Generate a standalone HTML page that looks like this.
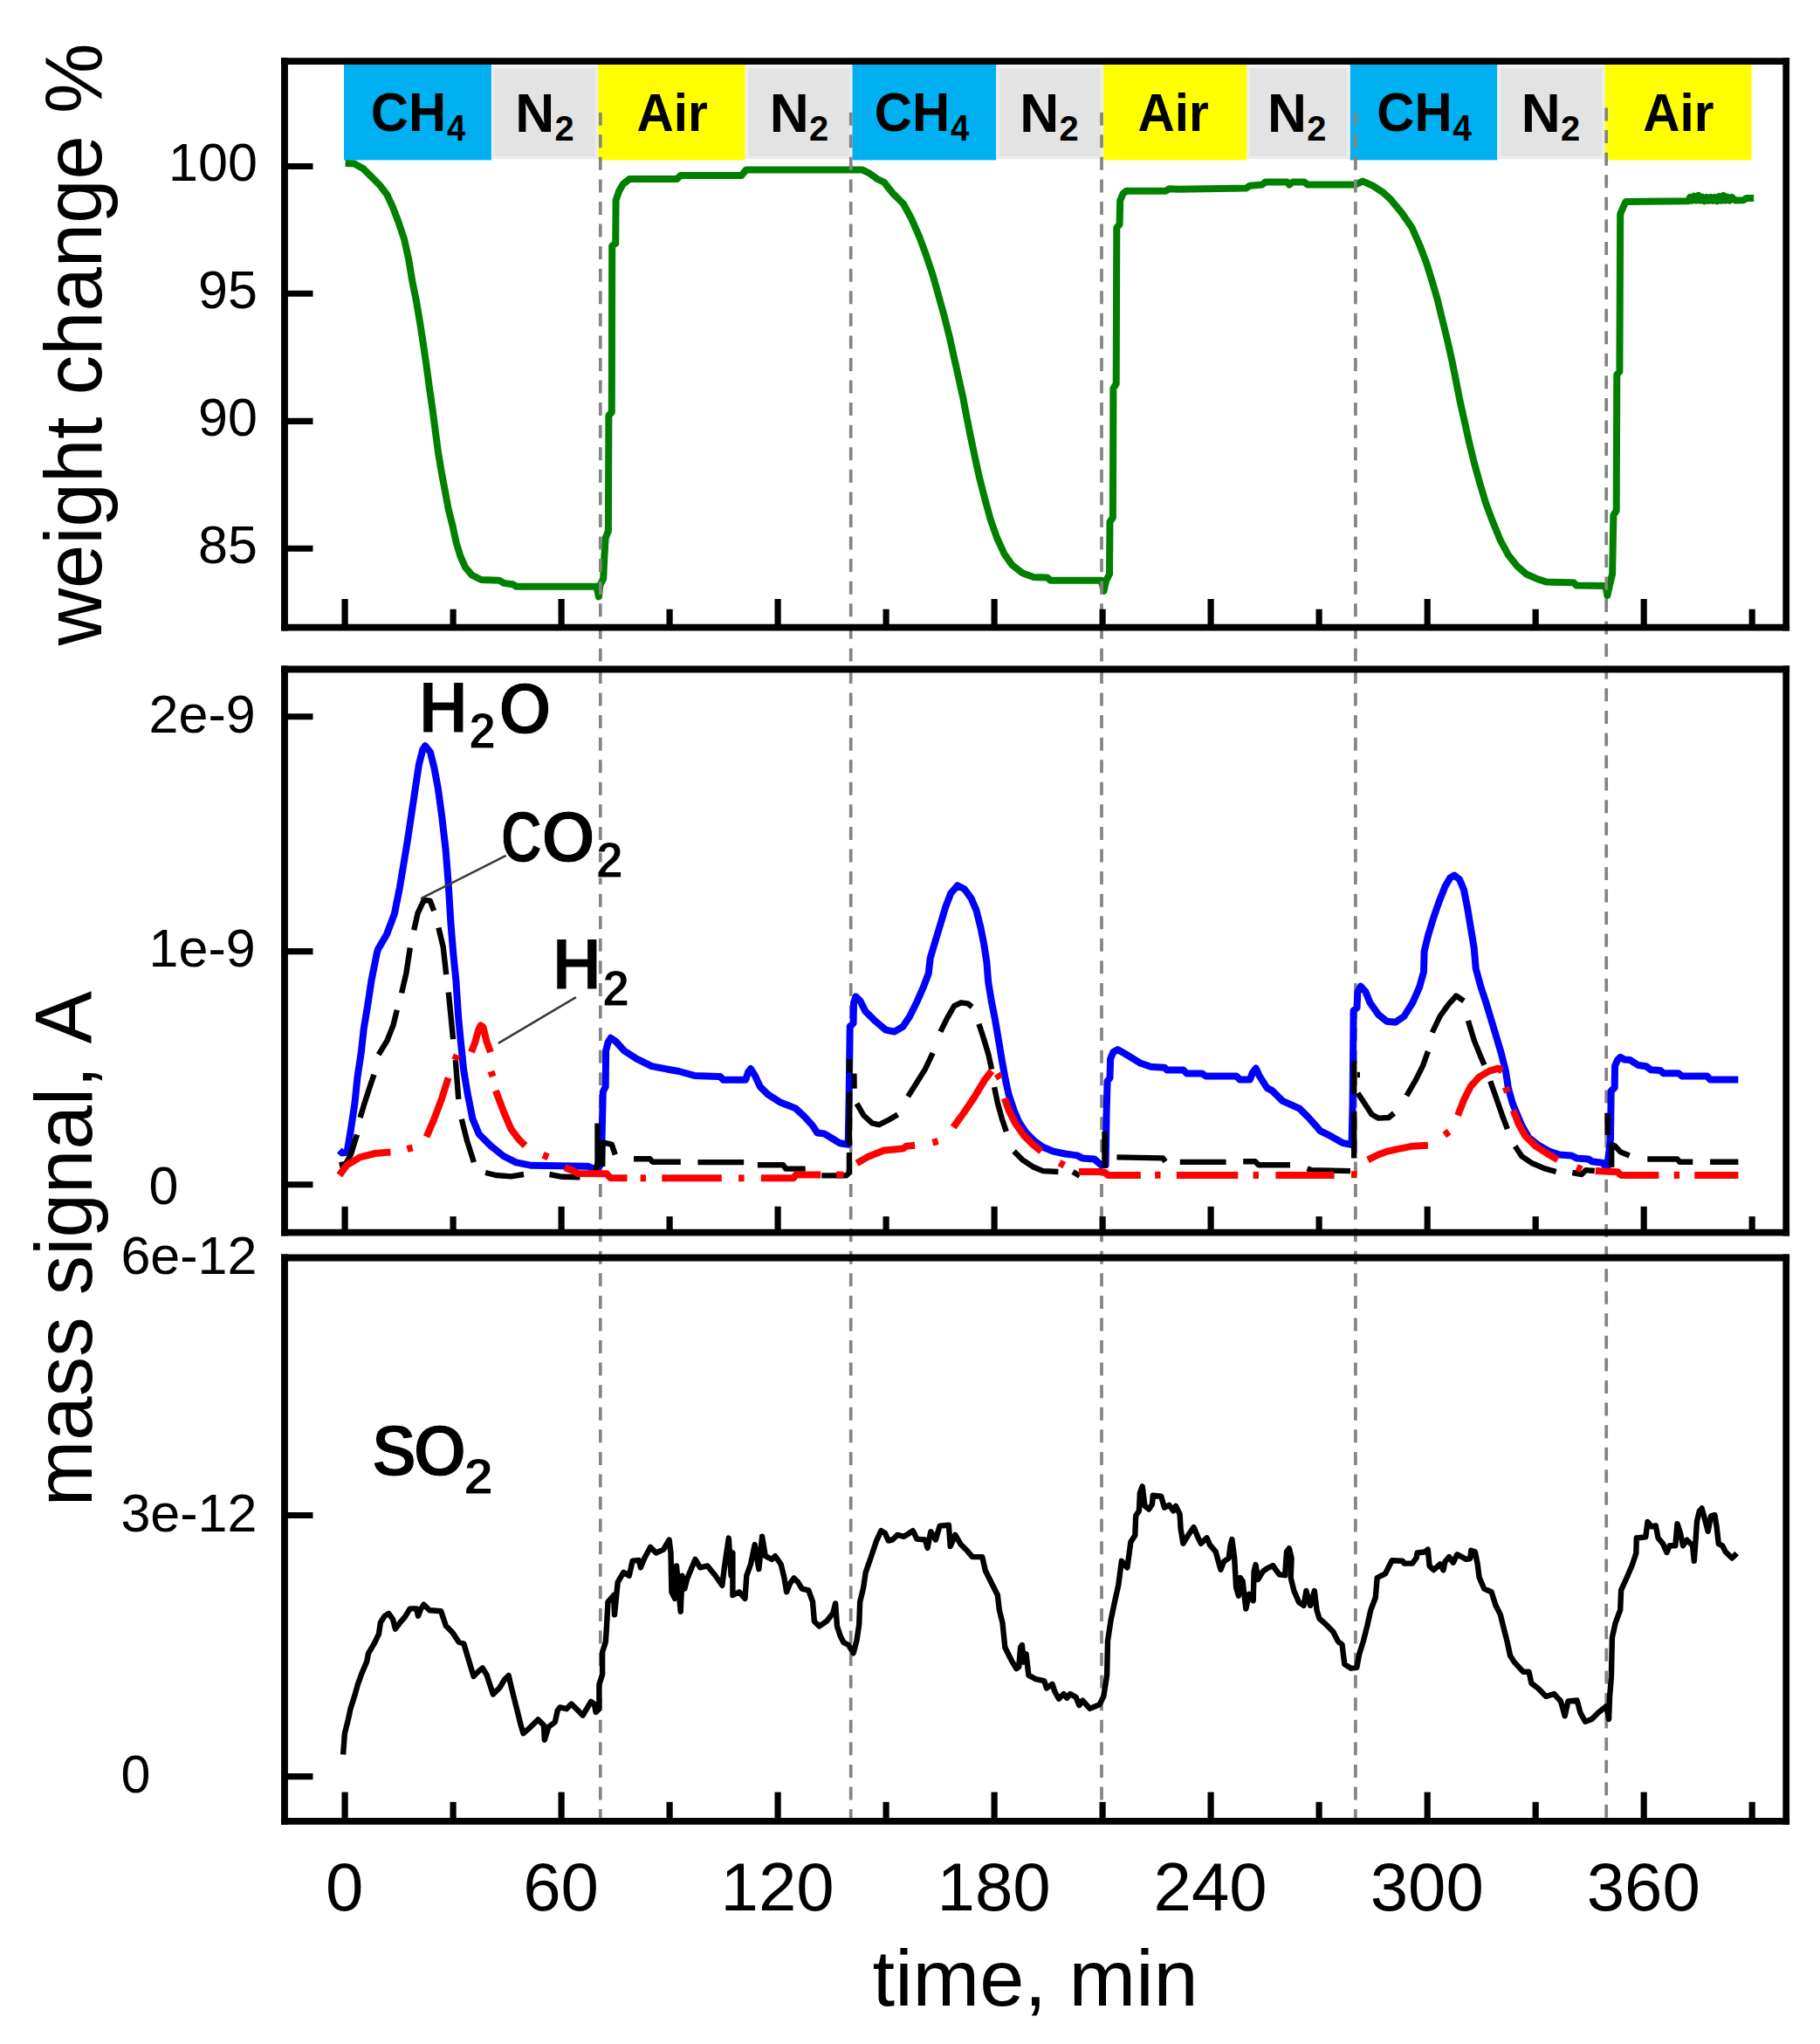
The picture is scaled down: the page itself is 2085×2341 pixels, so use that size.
<!DOCTYPE html>
<html lang="en"><head><meta charset="utf-8"><title>TGA-MS redox cycles</title>
<style>html,body{margin:0;padding:0;background:#fff}svg{display:block}text{font-family:"Liberation Sans",sans-serif;fill:#000;font-kerning:none}</style>
</head><body>
<svg width="2085" height="2341" viewBox="0 0 2085 2341">
<rect width="2085" height="2341" fill="#fff"/>
<g shape-rendering="geometricPrecision">
<rect x="394.0" y="73.6" width="168.9" height="109.8" fill="#00B0F0"/>
<rect x="976.3" y="73.6" width="165.0" height="109.8" fill="#00B0F0"/>
<rect x="1546.7" y="73.6" width="168.7" height="109.8" fill="#00B0F0"/>
<rect x="562.9" y="75.5" width="122.4" height="106.9" fill="#EDEDED"/>
<rect x="566.4" y="79.0" width="115.4" height="99.9" fill="#E3E3E3"/>
<rect x="853.5" y="75.5" width="122.8" height="106.9" fill="#EDEDED"/>
<rect x="857.0" y="79.0" width="115.8" height="99.9" fill="#E3E3E3"/>
<rect x="1141.3" y="75.5" width="122.9" height="106.9" fill="#EDEDED"/>
<rect x="1144.8" y="79.0" width="115.9" height="99.9" fill="#E3E3E3"/>
<rect x="1428.4" y="75.5" width="118.3" height="106.9" fill="#EDEDED"/>
<rect x="1431.9" y="79.0" width="111.3" height="99.9" fill="#E3E3E3"/>
<rect x="1715.4" y="75.5" width="123.2" height="106.9" fill="#EDEDED"/>
<rect x="1718.9" y="79.0" width="116.2" height="99.9" fill="#E3E3E3"/>
<rect x="685.3" y="73.6" width="168.2" height="109.8" fill="#FFFF00"/>
<rect x="1264.2" y="73.6" width="164.2" height="109.8" fill="#FFFF00"/>
<rect x="1838.6" y="73.6" width="167.9" height="109.8" fill="#FFFF00"/>
</g>
<path d="M395.6,186.9 L405.9,187.6 L416.3,193.3 L426.7,203.7 L435.7,212.8 L443.5,223.2 L450.0,237.4 L456.5,254.3 L463.0,273.7 L468.2,297.0 L472.0,320.4 L477.2,346.3 L481.6,372.3 L485.5,398.2 L488.9,421.5 L492.0,444.9 L495.4,468.2 L498.8,494.1 L501.9,517.5 L505.8,540.8 L509.7,561.5 L513.5,582.3 L518.7,603.0 L522.6,621.2 L527.3,636.7 L533.0,649.7 L540.8,658.8 L551.1,664.0 L571.9,664.7 L577.1,667.9 L587.4,669.2 L591.3,671.7 L683.4,671.7 L686.0,683.4 L687.3,670.4 L691.2,662.7 L692.4,636.7 L693.7,616.0 L696.9,608.2 L697.4,476.0 L700.8,472.1 L701.2,281.5 L705.2,278.9 L705.6,229.6 L709.0,219.3 L713.8,210.8 L721.1,205.0 L775.6,205.0 L779.5,201.1 L849.5,201.1 L854.7,194.6 L988.2,194.6 L996.0,198.5 L1005.0,205.0 L1013.0,208.9 L1023.3,221.9 L1035.0,233.5 L1044.1,250.4 L1053.2,271.1 L1060.9,291.9 L1068.7,315.2 L1075.2,338.5 L1081.7,361.9 L1087.6,385.2 L1092.8,408.6 L1098.0,431.9 L1103.2,455.2 L1107.6,478.6 L1112.3,501.9 L1117.2,525.2 L1122.4,548.6 L1128.4,571.9 L1134.8,595.3 L1142.1,616.0 L1150.4,634.2 L1159.5,647.1 L1171.1,656.2 L1184.1,660.9 L1199.7,661.4 L1203.5,664.7 L1261.9,664.7 L1264.5,676.9 L1267.1,665.3 L1271.0,657.5 L1271.5,597.8 L1274.9,592.7 L1275.4,444.9 L1278.7,439.7 L1279.3,260.8 L1282.6,256.9 L1283.2,229.6 L1286.5,221.9 L1290.4,218.7 L1335.7,218.7 L1339.6,216.2 L1350.0,216.7 L1427.8,215.4 L1431.7,212.8 L1446.0,211.5 L1449.8,208.4 L1474.5,208.4 L1477.0,211.5 L1481.0,208.4 L1494.0,208.4 L1497.8,211.5 L1552.3,211.5 L1561.3,207.6 L1573.0,212.8 L1584.7,220.6 L1593.0,228.3 L1605.9,243.9 L1617.6,260.8 L1626.7,281.5 L1634.5,302.2 L1640.9,323.0 L1646.9,343.7 L1652.6,367.1 L1658.3,390.4 L1663.5,413.7 L1668.2,437.1 L1672.8,460.4 L1678.0,483.7 L1683.2,507.1 L1688.9,530.4 L1695.4,553.8 L1702.4,577.1 L1710.2,597.8 L1718.7,618.6 L1727.8,635.4 L1738.2,648.4 L1748.5,657.5 L1760.2,662.7 L1771.9,666.6 L1803.0,667.3 L1805.6,670.4 L1839.3,671.0 L1841.4,682.1 L1844.0,670.4 L1847.1,657.5 L1848.4,590.1 L1851.7,584.9 L1852.3,429.3 L1855.4,425.4 L1856.2,245.2 L1859.5,237.4 L1862.6,230.9 L1934.3,230.3 L1936.0,226.0 L1938.4,229.6 L1940.8,224.6 L1943.2,229.6 L1945.6,223.8 L1948.0,229.6 L1950.4,225.8 L1952.8,230.3 L1955.2,226.0 L1957.6,229.8 L1960.0,226.0 L1962.4,229.9 L1964.8,226.0 L1967.2,230.2 L1969.6,224.8 L1972.0,229.6 L1974.4,223.9 L1976.8,229.6 L1979.2,225.8 L1981.6,229.6 L1984.0,226.0 L1988.0,229.6 L1997.0,229.3 L2000.8,227.0 L2009.2,226.9" fill="none" stroke="#008000" stroke-width="8.0" stroke-linejoin="round" stroke-linecap="butt"/>
<g stroke="#848484" stroke-width="3.7" stroke-dasharray="15 10.57" fill="none">
<line x1="687.8" y1="128.7" x2="687.8" y2="2083"/>
<line x1="974.7" y1="128.7" x2="974.7" y2="2083"/>
<line x1="1262.0" y1="128.7" x2="1262.0" y2="2083"/>
<line x1="1552.9" y1="128.7" x2="1552.9" y2="2083"/>
<line x1="1840.2" y1="123.5" x2="1840.2" y2="2083"/>
</g>
<path d="M388.8,1317.5 L392.0,1320.5 L397.6,1319.6 L402.0,1293.1 L406.4,1263.8 L409.4,1234.4 L413.8,1205.1 L416.7,1178.7 L421.1,1152.2 L425.5,1122.9 L431.4,1093.5 L432.8,1087.7 L443.1,1070.0 L451.9,1046.6 L457.8,1017.2 L462.2,990.8 L466.6,964.4 L471.0,935.0 L475.4,905.7 L479.8,876.3 L484.2,858.7 L487.1,854.3 L493.0,861.6 L497.4,879.3 L501.8,902.7 L506.2,935.0 L510.6,973.2 L513.6,1011.3 L516.5,1058.3 L519.4,1093.5 L522.4,1122.9 L525.3,1166.9 L528.2,1196.3 L531.2,1225.6 L535.6,1252.1 L541.4,1281.4 L548.8,1299.0 L562.0,1312.2 L576.7,1324.0 L591.3,1331.3 L609.0,1334.8 L673.5,1335.7 L683.8,1340.1 L688.8,1332.7 L689.8,1293.5 L690.8,1250.5 L693.7,1244.6 L694.1,1203.5 L696.6,1193.7 L699.6,1188.8 L705.4,1192.8 L715.2,1203.5 L728.9,1212.3 L746.5,1221.1 L762.2,1224.1 L777.8,1227.0 L795.5,1231.9 L824.8,1232.9 L828.7,1236.8 L854.2,1236.8 L857.1,1228.0 L860.0,1224.1 L864.9,1231.9 L870.8,1244.6 L879.6,1253.4 L893.3,1262.2 L910.9,1269.1 L920.7,1277.9 L930.5,1288.6 L936.4,1297.5 L944.2,1298.4 L954.0,1304.3 L961.8,1309.2 L971.7,1310.7 L972.7,1254.0 L973.7,1175.7 L977.6,1171.8 L978.0,1148.3 L980.5,1141.4 L985.4,1146.3 L991.3,1158.1 L1003.1,1169.8 L1014.8,1179.6 L1024.6,1181.6 L1034.4,1175.7 L1042.2,1164.0 L1050.0,1148.3 L1057.8,1130.7 L1063.7,1115.0 L1065.7,1097.4 L1071.5,1077.8 L1077.4,1058.3 L1083.3,1038.7 L1089.2,1023.1 L1097.0,1014.2 L1104.8,1018.2 L1112.6,1028.9 L1118.5,1042.6 L1123.4,1062.2 L1127.3,1081.8 L1130.3,1101.3 L1132.2,1124.8 L1136.1,1148.3 L1140.0,1167.9 L1144.0,1191.4 L1147.9,1214.8 L1151.8,1236.4 L1155.7,1254.0 L1161.6,1271.6 L1167.4,1285.3 L1175.3,1297.0 L1185.0,1306.8 L1194.8,1313.7 L1206.6,1318.6 L1220.3,1321.5 L1234.0,1323.4 L1239.8,1326.4 L1253.5,1327.4 L1261.4,1334.2 L1266.6,1334.2 L1267.6,1273.5 L1268.6,1238.3 L1271.5,1234.4 L1272.1,1212.9 L1275.4,1205.0 L1280.3,1202.1 L1289.1,1207.0 L1306.8,1217.8 L1318.5,1221.7 L1334.1,1222.7 L1337.1,1225.6 L1355.7,1225.6 L1359.6,1229.5 L1377.2,1229.5 L1381.1,1232.4 L1416.3,1232.4 L1420.3,1236.4 L1432.0,1236.4 L1434.9,1228.5 L1438.8,1223.6 L1442.8,1232.4 L1451.6,1246.1 L1457.4,1249.1 L1469.2,1260.8 L1488.7,1269.6 L1498.5,1279.4 L1508.3,1290.2 L1512.2,1295.1 L1524.0,1300.9 L1537.7,1308.8 L1548.5,1311.2 L1549.6,1264.0 L1550.6,1157.6 L1554.5,1154.2 L1555.3,1136.6 L1558.9,1129.7 L1564.3,1135.6 L1569.4,1148.3 L1579.1,1162.0 L1588.9,1169.8 L1598.7,1170.8 L1608.5,1164.0 L1618.3,1148.3 L1626.1,1130.7 L1631.0,1113.1 L1631.6,1089.6 L1635.9,1072.0 L1641.8,1052.4 L1648.6,1032.8 L1655.5,1015.2 L1661.3,1005.4 L1666.2,1002.5 L1672.1,1007.4 L1677.0,1019.1 L1680.9,1038.7 L1684.8,1062.2 L1688.7,1085.7 L1690.7,1109.2 L1696.6,1130.7 L1702.4,1148.3 L1708.3,1167.9 L1714.2,1187.4 L1720.0,1207.0 L1724.9,1226.6 L1727.9,1246.1 L1732.8,1263.8 L1737.7,1275.5 L1743.5,1289.2 L1751.4,1302.9 L1761.1,1310.7 L1774.8,1318.6 L1786.6,1322.5 L1800.3,1323.5 L1806.1,1326.4 L1819.8,1327.4 L1823.8,1330.3 L1835.5,1331.8 L1841.2,1337.0 L1845.0,1305.0 L1845.7,1249.7 L1849.7,1245.7 L1850.1,1220.7 L1853.0,1214.1 L1856.3,1210.8 L1860.9,1213.4 L1867.5,1214.1 L1876.7,1220.0 L1885.9,1221.3 L1891.2,1225.3 L1901.8,1225.9 L1905.7,1229.2 L1922.9,1229.2 L1926.8,1232.5 L1955.8,1232.5 L1959.1,1236.5 L1991.4,1236.5" fill="none" stroke="#0000FF" stroke-width="8.0" stroke-linejoin="round" stroke-linecap="butt"/>
<g fill="none" stroke="#000" stroke-width="6.4" stroke-linejoin="round" stroke-linecap="butt">
<path d="M388.8,1334.5 L396.0,1333.0 L402.0,1322.0 L409.0,1299.5"/>
<path d="M412.6,1280.0 L417.9,1262.4 L423.1,1246.6 L428.4,1230.7"/>
<path d="M433.7,1207.8 L443.4,1192.0 L450.4,1174.4 L454.8,1156.7"/>
<path d="M460.1,1137.4 L465.4,1114.5 L469.8,1085.4"/>
<path d="M474.2,1065.2 L478.6,1045.8 L485.7,1030.8 L492.7,1031.7 L497.1,1043.1"/>
<path d="M502.4,1062.5 L507.7,1084.5 L511.2,1116.2"/>
<path d="M513.8,1136.5 L516.5,1163.8 L519.1,1190.2"/>
<path d="M521.8,1214.0 L523.5,1236.0 L525.3,1258.9"/>
<path d="M528.8,1281.8 L535.0,1306.4 L542.9,1331.1"/>
<path d="M556.1,1343.0 L567.9,1346.0 L585.5,1347.4 L600.0,1345.0"/>
<path d="M629.5,1345.0 L644.2,1347.8 L664.5,1348.2"/>
<path d="M682.3,1343.0 L684.5,1331.0 L684.5,1286.4"/>
<path d="M690.2,1336.0 L690.5,1309.0 L693.0,1308.9 L700.9,1310.9 L704.8,1322.6"/>
<path d="M726.0,1327.2 L744.6,1327.2 L747.5,1330.7 L779.8,1330.7"/>
<path d="M799.4,1331.1 L852.2,1331.1"/>
<path d="M867.9,1334.2 L897.2,1334.2 L900.2,1338.6 L922.7,1338.6"/>
<path d="M941.3,1346.4 L969.6,1346.4 L972.8,1343.0 L973.0,1320.0"/>
<path d="M973.0,1312.0 L973.0,1250.5"/>
<path d="M973.0,1229.0 L973.0,1213.0"/>
<path d="M978.4,1229.5 L978.6,1246.8"/>
<path d="M981.5,1263.8 L989.4,1277.5 L999.1,1286.3 L1007.0,1288.2 L1018.7,1282.3 L1028.5,1276.5"/>
<path d="M1040.2,1255.9 L1050.0,1240.3 L1059.8,1224.6 L1068.6,1206.0"/>
<path d="M1077.4,1181.6 L1085.2,1165.9 L1093.1,1152.2 L1100.9,1148.3 L1108.7,1149.3 L1113.6,1153.2"/>
<path d="M1121.4,1172.8 L1126.3,1187.5 L1132.2,1207.0 L1136.1,1224.6"/>
<path d="M1139.1,1245.2 L1143.0,1263.8 L1147.9,1281.4 L1152.8,1296.0"/>
<path d="M1161.6,1318.6 L1171.3,1328.3 L1183.1,1336.2 L1194.8,1341.1 L1212.4,1342.0"/>
<path d="M1229.1,1342.0 L1236.9,1346.9"/>
<path d="M1265.5,1337.5 L1265.5,1296.0"/>
<path d="M1279.4,1325.4 L1332.2,1326.4 L1335.1,1330.3"/>
<path d="M1351.8,1330.9 L1404.6,1330.9"/>
<path d="M1424.2,1330.3 L1437.9,1330.3 L1441.8,1334.2 L1478.0,1334.2"/>
<path d="M1497.6,1338.1 L1502.4,1340.1 L1547.0,1341.1"/>
<path d="M1551.2,1326.5 L1551.2,1272.7"/>
<path d="M1551.2,1253.1 L1551.2,1215.2"/>
<path d="M1555.0,1231.0 L1558.0,1231.0"/>
<path d="M1555.5,1251.9 L1562.8,1262.9 L1571.4,1276.3 L1578.7,1280.6 L1590.9,1280.0 L1597.0,1275.1"/>
<path d="M1611.4,1255.0 L1622.2,1236.4 L1630.0,1220.7 L1635.9,1204.1"/>
<path d="M1640.8,1182.5 L1649.6,1164.0 L1659.4,1150.3 L1668.2,1140.5 L1677.0,1146.3"/>
<path d="M1681.9,1168.8 L1688.7,1191.4 L1696.6,1210.9 L1700.5,1219.7"/>
<path d="M1707.3,1238.3 L1714.2,1257.9 L1721.0,1277.5 L1726.9,1293.1"/>
<path d="M1735.7,1312.7 L1743.5,1324.4 L1755.3,1332.3 L1769.0,1338.1 L1782.7,1342.0"/>
<path d="M1801.3,1343.0 L1812.0,1345.0 L1816.9,1340.1 L1826.7,1341.0"/>
<path d="M1841.6,1300.0 L1841.6,1275.0"/>
<path d="M1846.2,1337.0 L1846.2,1311.0 L1850.0,1312.5 L1856.5,1319.4 L1866.7,1323.5"/>
<path d="M1887.3,1327.5 L1921.5,1327.5 L1924.2,1330.8 L1939.3,1330.8"/>
<path d="M1959.1,1330.8 L1991.4,1330.8"/>
</g>
<g fill="none" stroke="#FF0000" stroke-width="8.0" stroke-linejoin="round" stroke-linecap="butt">
<path d="M388.8,1346.0 L397.6,1334.2 L412.3,1325.4 L429.9,1321.0 L447.5,1319.6"/>
<path d="M466.4,1316.0 L472.6,1314.4"/>
<path d="M488.6,1302.0 L497.4,1281.4 L506.2,1257.9 L513.6,1234.4"/>
<path d="M521.2,1214.0 L523.6,1208.0"/>
<path d="M540.0,1205.0 L544.4,1193.3 L548.0,1180.0 L550.8,1174.3 L553.5,1176.5 L557.6,1193.3 L562.0,1205.1"/>
<path d="M562.5,1227.0 L564.5,1233.0"/>
<path d="M567.9,1249.1 L576.7,1272.6 L585.5,1293.1 L594.3,1304.9 L601.6,1312.2"/>
<path d="M622.1,1322.8 L628.1,1325.2"/>
<path d="M647.1,1337.2 L657.0,1341.0 L662.0,1344.0 L695.0,1344.3 L699.0,1349.0 L718.5,1349.3"/>
<path d="M733.6,1349.3 L740.0,1349.3"/>
<path d="M758.3,1349.3 L826.8,1349.3"/>
<path d="M846.1,1349.3 L852.5,1349.3"/>
<path d="M871.8,1349.3 L909.0,1349.3 L911.9,1345.4 L940.3,1345.4"/>
<path d="M958.2,1345.6 L966.2,1345.6"/>
<path d="M981.5,1332.3 L995.2,1324.4 L1012.8,1317.6 L1034.4,1315.6 L1038.3,1312.7 L1048.1,1311.7"/>
<path d="M1068.4,1308.6 L1074.6,1307.0"/>
<path d="M1092.1,1291.2 L1104.8,1273.5 L1116.6,1255.9 L1128.3,1236.4 L1136.1,1226.6"/>
<path d="M1142.2,1229.8 L1145.8,1235.2"/>
<path d="M1150.8,1257.9 L1155.7,1271.6 L1163.5,1287.2 L1173.3,1300.9 L1183.1,1310.7 L1192.9,1318.6"/>
<path d="M1213.6,1331.6 L1219.2,1334.8"/>
<path d="M1235.9,1342.0 L1259.4,1342.0 L1265.7,1343.0 L1269.6,1346.0 L1306.8,1346.0"/>
<path d="M1323.1,1345.8 L1329.5,1345.8"/>
<path d="M1347.8,1346.0 L1418.3,1346.0"/>
<path d="M1435.6,1346.0 L1442.0,1346.0"/>
<path d="M1461.4,1346.0 L1528.6,1346.0"/>
<path d="M1548.0,1345.2 L1554.6,1345.2"/>
<path d="M1567.0,1328.3 L1578.8,1322.5 L1589.9,1318.6 L1598.7,1316.6 L1618.3,1312.7 L1635.9,1311.7"/>
<path d="M1654.8,1299.9 L1660.0,1296.1"/>
<path d="M1670.1,1277.5 L1677.0,1259.8 L1684.8,1244.2 L1694.6,1233.4 L1706.3,1226.6 L1716.1,1223.6 L1721.0,1226.6"/>
<path d="M1724.8,1245.1 L1727.0,1251.1"/>
<path d="M1733.7,1271.6 L1739.6,1287.2 L1747.4,1300.9 L1759.2,1312.7 L1772.9,1321.5 L1784.6,1328.3"/>
<path d="M1806.2,1336.8 L1812.0,1339.4"/>
<path d="M1827.7,1341.1 L1853.0,1342.3 L1856.9,1345.9 L1900.4,1345.9"/>
<path d="M1917.7,1345.9 L1924.1,1345.9"/>
<path d="M1941.3,1345.9 L1991.4,1345.9"/>
</g>
<path d="M393.1,2009.6 L394.9,1985.3 L398.7,1970.3 L401.5,1957.2 L406.2,1942.3 L409.9,1929.2 L414.6,1916.2 L420.2,1903.1 L422.0,1893.7 L428.6,1882.5 L434.0,1871.3 L435.9,1858.2 L440.7,1850.8 L445.4,1848.0 L450.1,1854.5 L452.9,1865.7 L458.5,1858.2 L464.1,1851.7 L469.7,1842.4 L477.1,1842.4 L479.0,1850.8 L481.8,1843.3 L485.5,1837.7 L492.1,1844.2 L505.2,1845.2 L510.8,1862.0 L518.2,1869.4 L525.7,1880.7 L531.3,1882.5 L536.9,1901.2 L542.5,1919.9 L548.1,1914.3 L552.8,1910.5 L557.5,1918.0 L564.9,1940.4 L572.4,1933.0 L578.0,1923.6 L582.7,1919.0 L585.5,1931.1 L589.2,1946.0 L593.0,1961.0 L596.7,1975.9 L599.5,1985.3 L606.0,1979.7 L616.3,1969.4 L622.9,1975.9 L623.8,1992.7 L628.5,1977.8 L635.9,1972.2 L638.7,1959.1 L641.5,1955.4 L649.0,1957.2 L654.6,1951.6 L662.1,1959.1 L667.7,1964.7 L677.0,1948.8 L680.8,1951.6 L682.6,1961.0 L686.4,1957.2 L686.4,1929.2 L690.1,1918.0 L690.1,1891.9 L693.8,1880.7 L694.8,1865.7 L696.5,1834.5 L703.1,1827.0 L704.0,1849.4 L707.7,1812.1 L714.3,1800.9 L720.8,1804.6 L724.6,1787.8 L732.0,1786.9 L733.9,1795.3 L738.6,1784.1 L745.1,1771.9 L751.6,1778.5 L760.1,1774.7 L766.6,1763.5 L768.5,1778.5 L769.4,1823.3 L773.1,1830.8 L775.0,1793.4 L779.7,1845.7 L781.5,1804.6 L784.3,1819.6 L787.1,1808.4 L791.8,1797.1 L796.5,1785.9 L802.1,1795.3 L810.5,1793.4 L818.9,1803.7 L827.3,1815.8 L830.1,1793.4 L834.8,1761.6 L837.6,1804.6 L839.4,1778.5 L839.4,1827.0 L846.9,1823.3 L853.5,1830.8 L855.3,1804.6 L860.0,1791.5 L864.7,1769.1 L869.3,1797.1 L873.1,1759.8 L876.8,1782.2 L884.3,1785.9 L888.0,1782.2 L894.6,1791.5 L898.3,1806.5 L901.1,1823.3 L904.8,1814.0 L909.5,1807.4 L914.2,1812.1 L918.8,1819.6 L926.3,1821.4 L931.0,1834.5 L932.9,1856.9 L938.5,1862.5 L946.9,1856.9 L954.3,1847.6 L957.1,1836.4 L959.0,1862.5 L962.7,1873.7 L966.5,1881.2 L972.1,1884.0 L977.7,1893.3 L981.4,1879.3 L984.2,1860.7 L985.2,1834.5 L988.9,1819.6 L991.7,1800.9 L998.2,1782.2 L1003.8,1765.4 L1009.4,1753.2 L1014.0,1756.0 L1017.7,1764.5 L1022.4,1763.5 L1028.0,1757.9 L1035.5,1759.8 L1040.2,1757.0 L1045.8,1753.2 L1050.4,1762.6 L1059.8,1763.5 L1062.6,1772.9 L1066.3,1754.2 L1071.9,1763.5 L1076.6,1747.6 L1086.9,1746.7 L1088.7,1771.0 L1094.3,1757.9 L1100.9,1769.1 L1108.4,1776.6 L1114.0,1783.1 L1125.2,1783.1 L1128.9,1799.0 L1136.4,1814.0 L1142.9,1827.0 L1144.8,1843.8 L1148.5,1858.8 L1151.3,1886.8 L1158.8,1901.8 L1164.4,1911.1 L1167.2,1909.2 L1169.1,1886.8 L1170.9,1884.0 L1172.8,1903.6 L1175.6,1894.3 L1178.4,1918.6 L1186.8,1923.2 L1196.2,1925.1 L1199.0,1933.5 L1205.5,1928.8 L1208.3,1937.2 L1213.0,1945.7 L1218.6,1940.1 L1222.3,1944.7 L1226.0,1940.1 L1232.6,1943.8 L1236.3,1953.1 L1240.1,1947.5 L1248.5,1956.9 L1259.7,1952.2 L1264.3,1942.9 L1268.1,1918.6 L1269.0,1879.3 L1272.7,1855.1 L1277.4,1832.6 L1281.2,1815.8 L1284.9,1787.8 L1291.4,1795.3 L1295.4,1766.0 L1300.3,1758.5 L1301.2,1736.0 L1304.9,1730.4 L1305.9,1709.9 L1308.7,1702.4 L1311.5,1724.8 L1316.2,1728.6 L1319.9,1723.0 L1320.8,1712.7 L1330.2,1713.6 L1333.9,1726.7 L1339.5,1723.9 L1344.2,1730.4 L1347.0,1724.8 L1351.6,1734.2 L1352.6,1751.0 L1355.4,1767.8 L1361.0,1758.5 L1367.5,1749.1 L1372.2,1760.3 L1375.9,1767.8 L1382.5,1761.3 L1386.2,1769.7 L1392.7,1777.1 L1398.4,1797.7 L1402.1,1788.4 L1407.7,1784.6 L1409.6,1769.7 L1411.4,1763.1 L1414.2,1784.6 L1416.1,1818.2 L1418.9,1827.6 L1420.8,1807.0 L1423.6,1810.8 L1427.3,1842.5 L1431.0,1825.7 L1435.7,1833.2 L1436.6,1799.6 L1438.5,1792.1 L1441.3,1808.9 L1446.9,1799.6 L1450.7,1796.8 L1458.1,1793.0 L1465.6,1803.3 L1472.1,1804.2 L1474.0,1777.1 L1476.8,1773.4 L1479.6,1784.6 L1478.7,1807.0 L1482.4,1822.0 L1488.0,1835.1 L1493.6,1838.8 L1496.4,1822.0 L1501.1,1838.8 L1505.8,1822.0 L1508.6,1844.4 L1511.4,1853.7 L1519.8,1861.2 L1527.2,1868.7 L1532.9,1879.9 L1537.5,1883.6 L1540.3,1906.0 L1547.8,1910.7 L1554.3,1909.8 L1557.1,1894.8 L1561.8,1879.9 L1566.5,1861.2 L1570.2,1844.4 L1575.8,1829.5 L1577.7,1807.0 L1587.0,1802.4 L1594.6,1787.2 L1606.8,1787.8 L1608.7,1790.6 L1618.0,1790.6 L1622.7,1784.1 L1623.6,1778.5 L1632.0,1777.5 L1635.8,1774.7 L1637.6,1793.4 L1642.3,1798.1 L1649.8,1791.5 L1653.5,1798.1 L1655.4,1788.7 L1660.1,1783.1 L1664.7,1789.7 L1669.4,1780.3 L1679.7,1785.9 L1684.3,1785.0 L1685.3,1775.7 L1689.9,1777.5 L1692.7,1791.5 L1694.6,1806.5 L1700.2,1819.6 L1708.6,1823.3 L1713.3,1838.2 L1718.9,1849.4 L1722.6,1864.4 L1726.4,1879.3 L1730.1,1896.2 L1734.8,1903.6 L1745.1,1914.8 L1751.6,1914.8 L1754.4,1927.9 L1761.9,1933.5 L1771.2,1942.9 L1780.5,1940.1 L1788.0,1948.5 L1792.7,1965.3 L1796.4,1948.5 L1806.7,1947.5 L1810.4,1961.5 L1816.0,1971.8 L1823.5,1969.0 L1831.0,1961.5 L1840.3,1954.1 L1843.1,1969.0 L1844.1,1942.9 L1845.9,1920.4 L1846.9,1875.6 L1850.6,1858.8 L1856.2,1843.8 L1857.1,1821.4 L1864.5,1805.0 L1869.9,1792.3 L1874.3,1779.1 L1874.8,1761.5 L1885.3,1760.4 L1887.5,1742.9 L1891.9,1748.4 L1896.8,1747.3 L1899.6,1761.5 L1905.1,1768.1 L1909.5,1778.0 L1912.7,1770.3 L1919.3,1770.3 L1921.5,1745.1 L1924.8,1754.9 L1928.1,1770.3 L1932.5,1763.7 L1939.1,1770.3 L1940.8,1787.9 L1942.4,1765.9 L1944.1,1741.8 L1946.8,1730.8 L1949.6,1727.5 L1952.3,1737.4 L1956.7,1753.8 L1960.0,1736.3 L1964.4,1735.2 L1966.6,1748.4 L1968.8,1768.1 L1973.2,1770.3 L1976.5,1776.9 L1984.2,1784.6 L1989.7,1779.1" fill="none" stroke="#000" stroke-width="6.4" stroke-linejoin="round" stroke-linecap="butt"/>
<g stroke="#3a3a3a" stroke-width="2.6" fill="none">
<line x1="482.1" y1="1029.2" x2="579.7" y2="979.9"/>
<line x1="570.8" y1="1194.8" x2="659.9" y2="1142.2"/>
</g>
<g fill="none" stroke="#000" stroke-linecap="butt">
<line x1="322.0" y1="70.2" x2="2050.1" y2="70.2" stroke-width="7.8"/>
<line x1="322.0" y1="718.6" x2="2050.1" y2="718.6" stroke-width="7.8"/>
<line x1="326.0" y1="66.30" x2="326.0" y2="722.50" stroke-width="7.8"/>
<line x1="2046.2" y1="66.30" x2="2046.2" y2="722.50" stroke-width="7.7"/>
<line x1="322.0" y1="766.5" x2="2050.1" y2="766.5" stroke-width="7.8"/>
<line x1="322.0" y1="1411.7" x2="2050.1" y2="1411.7" stroke-width="7.8"/>
<line x1="326.0" y1="762.60" x2="326.0" y2="1415.60" stroke-width="7.8"/>
<line x1="2046.2" y1="762.60" x2="2046.2" y2="1415.60" stroke-width="7.7"/>
<line x1="322.0" y1="1440.5" x2="2050.1" y2="1440.5" stroke-width="7.8"/>
<line x1="322.0" y1="2085.8" x2="2050.1" y2="2085.8" stroke-width="7.8"/>
<line x1="326.0" y1="1436.60" x2="326.0" y2="2089.70" stroke-width="7.8"/>
<line x1="2046.2" y1="1436.60" x2="2046.2" y2="2089.70" stroke-width="7.7"/>
</g>
<g stroke="#000" fill="none" stroke-linecap="butt">
<line x1="395.1" y1="718.6" x2="395.1" y2="686.0" stroke-width="7.2"/>
<line x1="519.1" y1="718.6" x2="519.1" y2="697.7" stroke-width="7.2"/>
<line x1="643.1" y1="718.6" x2="643.1" y2="686.0" stroke-width="7.2"/>
<line x1="767.1" y1="718.6" x2="767.1" y2="697.7" stroke-width="7.2"/>
<line x1="891.1" y1="718.6" x2="891.1" y2="686.0" stroke-width="7.2"/>
<line x1="1015.1" y1="718.6" x2="1015.1" y2="697.7" stroke-width="7.2"/>
<line x1="1139.1" y1="718.6" x2="1139.1" y2="686.0" stroke-width="7.2"/>
<line x1="1263.1" y1="718.6" x2="1263.1" y2="697.7" stroke-width="7.2"/>
<line x1="1387.1" y1="718.6" x2="1387.1" y2="686.0" stroke-width="7.2"/>
<line x1="1511.1" y1="718.6" x2="1511.1" y2="697.7" stroke-width="7.2"/>
<line x1="1635.2" y1="718.6" x2="1635.2" y2="686.0" stroke-width="7.2"/>
<line x1="1759.2" y1="718.6" x2="1759.2" y2="697.7" stroke-width="7.2"/>
<line x1="1883.2" y1="718.6" x2="1883.2" y2="686.0" stroke-width="7.2"/>
<line x1="2007.2" y1="718.6" x2="2007.2" y2="697.7" stroke-width="7.2"/>
<line x1="395.1" y1="1411.7" x2="395.1" y2="1381.8" stroke-width="7.2"/>
<line x1="519.1" y1="1411.7" x2="519.1" y2="1393.2" stroke-width="7.2"/>
<line x1="643.1" y1="1411.7" x2="643.1" y2="1381.8" stroke-width="7.2"/>
<line x1="767.1" y1="1411.7" x2="767.1" y2="1393.2" stroke-width="7.2"/>
<line x1="891.1" y1="1411.7" x2="891.1" y2="1381.8" stroke-width="7.2"/>
<line x1="1015.1" y1="1411.7" x2="1015.1" y2="1393.2" stroke-width="7.2"/>
<line x1="1139.1" y1="1411.7" x2="1139.1" y2="1381.8" stroke-width="7.2"/>
<line x1="1263.1" y1="1411.7" x2="1263.1" y2="1393.2" stroke-width="7.2"/>
<line x1="1387.1" y1="1411.7" x2="1387.1" y2="1381.8" stroke-width="7.2"/>
<line x1="1511.1" y1="1411.7" x2="1511.1" y2="1393.2" stroke-width="7.2"/>
<line x1="1635.2" y1="1411.7" x2="1635.2" y2="1381.8" stroke-width="7.2"/>
<line x1="1759.2" y1="1411.7" x2="1759.2" y2="1393.2" stroke-width="7.2"/>
<line x1="1883.2" y1="1411.7" x2="1883.2" y2="1381.8" stroke-width="7.2"/>
<line x1="2007.2" y1="1411.7" x2="2007.2" y2="1393.2" stroke-width="7.2"/>
<line x1="395.1" y1="2085.8" x2="395.1" y2="2052.5" stroke-width="7.2"/>
<line x1="519.1" y1="2085.8" x2="519.1" y2="2063.8" stroke-width="7.2"/>
<line x1="643.1" y1="2085.8" x2="643.1" y2="2052.5" stroke-width="7.2"/>
<line x1="767.1" y1="2085.8" x2="767.1" y2="2063.8" stroke-width="7.2"/>
<line x1="891.1" y1="2085.8" x2="891.1" y2="2052.5" stroke-width="7.2"/>
<line x1="1015.1" y1="2085.8" x2="1015.1" y2="2063.8" stroke-width="7.2"/>
<line x1="1139.1" y1="2085.8" x2="1139.1" y2="2052.5" stroke-width="7.2"/>
<line x1="1263.1" y1="2085.8" x2="1263.1" y2="2063.8" stroke-width="7.2"/>
<line x1="1387.1" y1="2085.8" x2="1387.1" y2="2052.5" stroke-width="7.2"/>
<line x1="1511.1" y1="2085.8" x2="1511.1" y2="2063.8" stroke-width="7.2"/>
<line x1="1635.2" y1="2085.8" x2="1635.2" y2="2052.5" stroke-width="7.2"/>
<line x1="1759.2" y1="2085.8" x2="1759.2" y2="2063.8" stroke-width="7.2"/>
<line x1="1883.2" y1="2085.8" x2="1883.2" y2="2052.5" stroke-width="7.2"/>
<line x1="2007.2" y1="2085.8" x2="2007.2" y2="2063.8" stroke-width="7.2"/>
<line x1="326.0" y1="190.5" x2="358.5" y2="190.5" stroke-width="7.1"/>
<line x1="326.0" y1="336.3" x2="358.5" y2="336.3" stroke-width="7.1"/>
<line x1="326.0" y1="482.4" x2="358.5" y2="482.4" stroke-width="7.1"/>
<line x1="326.0" y1="628.2" x2="358.5" y2="628.2" stroke-width="7.1"/>
<line x1="326.0" y1="820.7" x2="358.5" y2="820.7" stroke-width="7.1"/>
<line x1="326.0" y1="1089.6" x2="358.5" y2="1089.6" stroke-width="7.1"/>
<line x1="326.0" y1="1356.7" x2="358.5" y2="1356.7" stroke-width="7.1"/>
<line x1="326.0" y1="1735.5" x2="358.5" y2="1735.5" stroke-width="7.1"/>
<line x1="326.0" y1="2034.6" x2="358.5" y2="2034.6" stroke-width="7.1"/>
</g>
<g font-size="61">
<text x="294.9" y="207.4" text-anchor="end">100</text>
<text x="294.9" y="353.2" text-anchor="end">95</text>
<text x="294.9" y="499.3" text-anchor="end">90</text>
<text x="294.9" y="645.1" text-anchor="end">85</text>
<text x="170.6" y="838.6">2e-9</text>
<text x="170.6" y="1107.2">1e-9</text>
<text x="170.6" y="1378.6">0</text>
<text x="138.4" y="1459.3">6e-12</text>
<text x="138.4" y="1753.6">3e-12</text>
<text x="138.4" y="2052.6">0</text>
</g>
<g font-size="78" text-anchor="middle">
<text x="394.6" y="2187.6">0</text>
<text x="642.6" y="2187.6">60</text>
<text x="890.6" y="2187.6">120</text>
<text x="1138.6" y="2187.6">180</text>
<text x="1386.6" y="2187.6">240</text>
<text x="1634.7" y="2187.6">300</text>
<text x="1882.7" y="2187.6">360</text>
</g>
<text transform="translate(999.61,2296.80) scale(1.0110,1)" font-size="91.00">time, min</text>
<text transform="translate(116.00,739.37) rotate(-90) scale(0.9849,1)" font-size="92.00">weight change %</text>
<text transform="translate(104.60,1725.33) rotate(-90) scale(0.9871,1)" font-size="92.00">mass signal, A</text>
<text transform="translate(424.75,150.00) scale(0.9422,1)" font-size="63.40" font-weight="bold">CH</text><text transform="translate(512.02,161.20) scale(0.9157,1)" font-size="42.00" font-weight="bold">4</text>
<text transform="translate(1001.80,150.00) scale(0.9422,1)" font-size="63.40" font-weight="bold">CH</text><text transform="translate(1089.07,161.20) scale(0.9157,1)" font-size="42.00" font-weight="bold">4</text>
<text transform="translate(1577.30,150.00) scale(0.9422,1)" font-size="63.40" font-weight="bold">CH</text><text transform="translate(1664.57,161.20) scale(0.9157,1)" font-size="42.00" font-weight="bold">4</text>
<text transform="translate(590.24,150.60) scale(0.9820,1)" font-size="63.40" font-weight="bold">N</text><text transform="translate(635.62,161.00) scale(0.9727,1)" font-size="41.00" font-weight="bold">2</text>
<text transform="translate(881.64,150.60) scale(0.9820,1)" font-size="63.40" font-weight="bold">N</text><text transform="translate(927.02,161.00) scale(0.9727,1)" font-size="41.00" font-weight="bold">2</text>
<text transform="translate(1168.24,150.60) scale(0.9820,1)" font-size="63.40" font-weight="bold">N</text><text transform="translate(1213.62,161.00) scale(0.9727,1)" font-size="41.00" font-weight="bold">2</text>
<text transform="translate(1451.94,150.60) scale(0.9820,1)" font-size="63.40" font-weight="bold">N</text><text transform="translate(1497.32,161.00) scale(0.9727,1)" font-size="41.00" font-weight="bold">2</text>
<text transform="translate(1742.74,150.60) scale(0.9820,1)" font-size="63.40" font-weight="bold">N</text><text transform="translate(1788.12,161.00) scale(0.9727,1)" font-size="41.00" font-weight="bold">2</text>
<text transform="translate(729.54,150.00) scale(0.9521,1)" font-size="61.50" font-weight="bold">Air</text>
<text transform="translate(1303.54,150.00) scale(0.9521,1)" font-size="61.50" font-weight="bold">Air</text>
<text transform="translate(1882.24,150.00) scale(0.9521,1)" font-size="61.50" font-weight="bold">Air</text>
<text transform="translate(479.44,838.60) scale(0.9423,1)" font-size="83.40" font-weight="bold" stroke="#fff" stroke-width="1" stroke-linejoin="round">H</text><text transform="translate(537.28,857.10) scale(0.9526,1)" font-size="58.00" font-weight="bold" stroke="#fff" stroke-width="1" stroke-linejoin="round">2</text><text transform="translate(570.89,839.80) scale(0.9388,1)" font-size="83.40" font-weight="bold" stroke="#fff" stroke-width="1" stroke-linejoin="round">O</text>
<text transform="translate(573.39,986.70) scale(0.7923,1)" font-size="83.40" font-weight="bold" stroke="#fff" stroke-width="1" stroke-linejoin="round">C</text><text transform="translate(620.12,986.70) scale(0.9577,1)" font-size="83.40" font-weight="bold" stroke="#fff" stroke-width="1" stroke-linejoin="round">O</text><text transform="translate(683.08,1005.00) scale(0.9562,1)" font-size="58.00" font-weight="bold" stroke="#fff" stroke-width="1" stroke-linejoin="round">2</text>
<text transform="translate(632.54,1133.40) scale(0.9423,1)" font-size="83.40" font-weight="bold" stroke="#fff" stroke-width="1" stroke-linejoin="round">H</text><text transform="translate(690.28,1151.90) scale(0.9562,1)" font-size="58.00" font-weight="bold" stroke="#fff" stroke-width="1" stroke-linejoin="round">2</text>
<text transform="translate(425.87,1690.00) scale(0.9286,1)" font-size="83.40" font-weight="bold" stroke="#fff" stroke-width="1" stroke-linejoin="round">S</text><text transform="translate(473.27,1690.00) scale(0.9457,1)" font-size="83.40" font-weight="bold" stroke="#fff" stroke-width="1" stroke-linejoin="round">O</text><text transform="translate(531.41,1710.50) scale(1.0385,1)" font-size="58.00" font-weight="bold" stroke="#fff" stroke-width="1" stroke-linejoin="round">2</text>
</svg></body></html>
